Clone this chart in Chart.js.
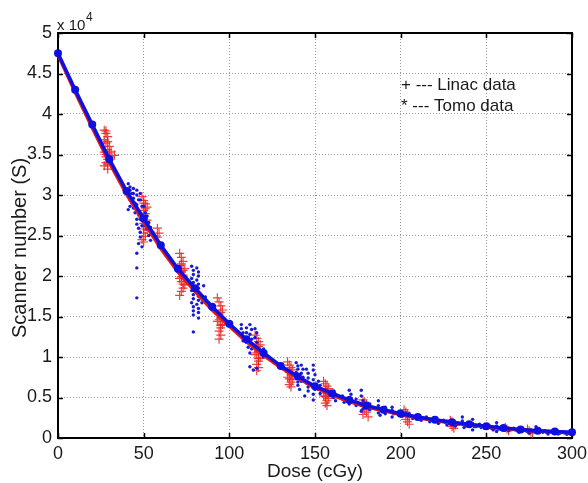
<!DOCTYPE html>
<html lang="en">
<head>
<meta charset="UTF-8">
<title>Scanner number vs dose</title>
<script src="https://cdn.jsdelivr.net/npm/chart.js"></script>
<style>
  html, body { margin: 0; padding: 0; background: #fff; }
  #wrap { width: 588px; height: 483px; }
</style>
</head>
<body>
<div id="wrap"><canvas id="chart" width="588" height="483"></canvas></div>
<script>
// fitted curves, one point every 10 cGy
const fitDose = [0, 10, 20, 30, 40, 50, 60, 70, 80, 90, 100, 110, 120, 130, 140, 150,
  160, 170, 180, 190, 200, 210, 220, 230, 240, 250, 260, 270, 280, 290, 300];
const tomoFit = [47500, 43000, 38700, 34400, 30500, 27100, 23800, 20900, 18500, 16200, 14100,
  12200, 10500, 8900, 7600, 6400, 5500, 4700, 4000, 3500, 3000, 2600, 2250, 1950, 1700,
  1450, 1250, 1050, 900, 800, 700];
const linacFit = [47300, 42700, 38300, 34000, 30100, 26700, 23400, 20500, 18100, 15800, 13800,
  11900, 10200, 8700, 7400, 6200, 5300, 4500, 3850, 3350, 2900, 2500, 2150, 1850, 1600,
  1400, 1200, 1000, 850, 750, 650];

// measured points [dose, scanner number]
const linacPoints = [
  [27,38000],[28,37600],[29,37200],[27,36800],[28,36400],[30,36000],[29,35600],[27,35300],[28,35000],[30,34700],[29,34400],[28,34000],[27,33600],[29,33200],[33,34900],[31,35400],
  [28,37900],[29,36600],[30,35200],[28,34700],[29,33800],
  [49,29800],[50,29300],[51,28900],[52,28500],[50,28100],[51,27700],[49,27300],[52,26900],[50,26500],[51,26100],[52,25700],[50,25300],[51,24900],[49,24500],[50,24200],[58,25900],[59,25300],[58,24800],[56,25000],
  [50,29000],[51,28300],[50,27400],[51,26700],[50,25800],
  [71,22800],[72,22300],[73,21800],[71,21300],[74,20900],[72,20500],[73,20100],[71,19700],[72,19300],[74,18900],[73,18500],[72,18100],[71,17600],
  [72,21500],[73,20700],[72,19900],[73,19000],
  [93,17300],[94,16800],[95,16300],[96,15800],[94,15300],[95,14800],[93,14400],[96,14000],[95,13600],[94,13200],[95,12700],[94,12200],
  [95,15500],[94,14600],[95,13900],
  [115,12700],[116,12300],[117,11900],[118,11500],[116,11100],[117,10700],[115,10300],[118,9900],[117,9500],[116,9100],[117,8700],[116,8300],
  [117,11300],[116,10500],[117,9800],
  [134,9400],[135,9000],[136,8700],[137,8400],[135,8100],[136,7800],[134,7500],[137,7200],[136,6900],[135,6600],[136,6300],
  [136,8000],[135,7300],
  [155,7000],[156,6700],[157,6400],[158,6100],[156,5800],[157,5500],[155,5200],[158,4900],[157,4600],[156,4300],[157,4000],
  [157,5900],[156,5100],
  [178,4700],[179,4400],[180,4100],[181,3800],[179,3500],[180,3200],[178,2900],[181,2600],
  [202,3500],[203,3200],[204,2900],[205,2600],[203,2300],[204,2000],[205,1700],
  [229,2200],[230,2000],[231,1800],[232,1600],[230,1400],[231,1200],
  [261,1300],[262,1100],[263,900],
  [274,1100],[275,900],[276,700],[277,600]
];
const tomoPoints = [
  [41,31400],[42,31000],[42,30600],[43,30200],[41,29800],[42,29400],[43,29000],[42,28600],[41,28200],[44,30800],[44,30200],[44,29600],[45,29000],[44,28400],[45,27800],
  [46,30600],[46,30000],[47,29400],[46,28800],[46,28200],[47,27600],[46,27000],[46,26400],[47,25900],[46,22800],[46,21000],[46,17300],
  [48,30200],[48,29400],[49,28600],[48,27800],[48,27000],[49,26200],[48,25400],[48,24800],[50,28600],[51,27800],[50,27000],[51,26200],
  [52,27400],[53,26600],[52,25800],[53,25000],[54,26000],[55,25200],[54,24400],[47,24000],[49,23600],
  [78,21200],[79,20700],[79,20200],[78,19700],[79,19200],[79,18700],[78,18200],[79,17700],[79,17200],[78,16700],[79,16200],[79,15700],[79,15200],[79,13100],
  [81,21000],[82,20500],[82,20000],[81,19500],[82,19000],[82,18500],[81,18000],[82,17500],[82,17000],[81,16500],[82,16000],[82,15500],[82,14800],[85,18800],[86,17400],[84,16700],
  [107,14000],[107,13500],[108,13000],[107,12500],[108,12000],[110,13600],[110,13000],[111,12400],[110,11800],[111,11200],
  [112,14000],[113,13400],[112,12800],[113,12200],[112,11600],[113,11000],[112,10500],[112,8800],
  [115,13500],[116,13000],[115,12400],[116,11800],[115,11200],[116,8600],[114,8400],[120,11000],[121,10500],[120,10000],
  [139,9300],[140,8900],[140,8500],[139,8100],[140,7700],[141,7300],[140,6900],[140,6500],[141,6000],[142,9000],[143,8500],[142,8000],[143,7500],[142,7000],
  [145,8500],[146,8000],[146,7400],[145,6800],[146,6300],[146,5800],[144,5200],[149,9000],[149,8400],[150,7800],[149,7200],[149,6600],[150,6000],[149,5400],[149,4700],
  [152,7000],[153,6500],[152,6000],[153,5500],
  [161,5800],[162,5400],[161,5000],[162,4600],[166,5200],[166,4800],[167,4400],[170,5900],[171,5400],[170,5000],[171,4600],[170,4200],
  [174,4800],[175,4400],[174,4000],[177,5900],[177,5200],[178,4600],[177,4000],[178,3600],[177,3300],[182,4200],[183,3800],[182,3500],
  [187,4600],[187,4000],[188,3500],[187,3100],[188,2800],[191,3800],[192,3400],[191,3000],[195,3800],[195,3400],[196,3000],[195,2600],[199,3300],[200,3000],[201,2700],
  [205,3000],[206,2700],[207,2400],[210,2800],[211,2500],[212,2200],[215,2600],[216,2300],[217,2000],[220,2400],[221,2100],[222,1800],
  [225,2200],[226,1900],[227,1600],[230,2000],[231,1700],[232,1500],[236,2600],[236,2100],[236,1700],[237,1300],[242,2300],[242,1800],[243,1400],[242,1000],
  [246,1700],[248,1500],[249,1200],[252,1500],[253,1200],[254,1000],[256,1900],[256,1500],[257,1100],[256,800],[260,1300],[262,1100],[263,900],
  [266,1200],[268,900],[269,700],[272,1000],[274,800],[275,600],[279,1400],[279,1000],[280,700],[284,900],[285,700],[286,500],
  [290,800],[291,600],[292,500],[295,700],[296,600],[297,450],[299,700],
  [203,3100],[208,2600],[213,2400],[218,2200],[223,2000],[228,1800],[233,1700],[238,1500],[240,1600],[244,1400],[247,1300],[250,1300],
  [255,1200],[258,1100],[261,1000],[264,1000],[267,1000],[270,900],[273,900],[277,800],[281,800],[283,700],[287,700],[289,700],[293,600],[298,600]
];

const xTicks = [0, 50, 100, 150, 200, 250, 300];
const yTicks = [0, 5000, 10000, 15000, 20000, 25000, 30000, 35000, 40000, 45000, 50000];
const legendLines = ['+ --- Linac data', '* --- Tomo data'];

const FONT = '"Liberation Sans", Arial, sans-serif';

// box round the axes with inward ticks, plus the loose texts
const framePlugin = {
  id: 'frame',
  beforeDatasetsDraw(chart) {
    const { ctx, chartArea: a, scales: { x, y } } = chart;
    ctx.save();
    ctx.strokeStyle = '#000';
    ctx.lineWidth = 1.5;
    ctx.beginPath();
    xTicks.forEach(v => {
      const px = Math.round(x.getPixelForValue(v)) + 0.5;
      ctx.moveTo(px, a.bottom); ctx.lineTo(px, a.bottom - 5);
      ctx.moveTo(px, a.top); ctx.lineTo(px, a.top + 5);
    });
    yTicks.forEach(v => {
      const py = Math.round(y.getPixelForValue(v)) + 0.5;
      ctx.moveTo(a.left, py); ctx.lineTo(a.left + 5, py);
      ctx.moveTo(a.right, py); ctx.lineTo(a.right - 5, py);
    });
    ctx.stroke();
    ctx.lineWidth = 2;
    ctx.strokeRect(a.left, a.top, a.right - a.left, a.bottom - a.top);
    ctx.restore();
  },
  afterDraw(chart) {
    const { ctx } = chart;
    ctx.save();
    ctx.fillStyle = '#1a1a1a';
    // y axis title
    ctx.translate(20, 248);
    ctx.rotate(-Math.PI / 2);
    ctx.font = '20px ' + FONT;
    ctx.textAlign = 'center';
    ctx.textBaseline = 'middle';
    ctx.fillText('Scanner number (S)', 0, 0);
    ctx.restore();

    ctx.save();
    ctx.fillStyle = '#1a1a1a';
    ctx.textBaseline = 'alphabetic';
    ctx.font = '15px ' + FONT;
    ctx.fillText('x 10', 57, 30);
    ctx.font = '12px ' + FONT;
    ctx.fillText('4', 86, 21);
    ctx.font = '17px ' + FONT;
    ctx.fillText(legendLines[0], 401, 90);
    ctx.fillText(legendLines[1], 401, 111);
    ctx.restore();
  }
};

new Chart(document.getElementById('chart'), {
  type: 'scatter',
  data: {
    datasets: [
      {
        label: 'Tomo fit',
        data: fitDose.map((d, i) => ({ x: d, y: tomoFit[i] })),
        showLine: true,
        borderColor: 'rgb(15,15,225)',
        backgroundColor: 'rgb(15,15,225)',
        borderWidth: 3.5,
        pointRadius: 4,
        pointBorderWidth: 0,
        clip: false
      },
      {
        label: 'Linac fit',
        data: fitDose.map((d, i) => ({ x: d, y: linacFit[i] })),
        showLine: true,
        borderColor: 'rgb(225,25,25)',
        borderWidth: 3.5,
        pointRadius: 0,
        clip: false
      },
      {
        label: 'Tomo data',
        data: tomoPoints.map(p => ({ x: p[0], y: p[1] })),
        pointStyle: 'circle',
        pointRadius: 1.7,
        pointBorderWidth: 0,
        backgroundColor: 'rgb(25,25,215)'
      },
      {
        label: 'Linac data',
        data: linacPoints.map(p => ({ x: p[0], y: p[1] })),
        pointStyle: 'cross',
        pointRadius: 4.5,
        borderWidth: 1.2,
        borderColor: 'rgba(235,30,30,0.85)'
      }
    ]
  },
  options: {
    responsive: false,
    animation: false,
    devicePixelRatio: 1,
    layout: { padding: { top: 33, right: 16, left: 0, bottom: 0 } },
    plugins: { legend: { display: false }, tooltip: { enabled: false } },
    scales: {
      x: {
        type: 'linear',
        min: 0,
        max: 300,
        afterBuildTicks: s => { s.ticks = xTicks.map(v => ({ value: v })); },
        afterFit: s => { s.height = 45; s.paddingRight = 0; s.paddingLeft = 0; },
        ticks: { font: { size: 18, family: FONT }, color: '#1a1a1a', padding: 5, maxRotation: 0 },
        grid: { color: '#9a9a9a', lineWidth: 1, drawTicks: false },
        border: { display: false, dash: [1, 2] },
        title: { display: true, text: 'Dose (cGy)', font: { size: 19, family: FONT }, color: '#1a1a1a', padding: 0 }
      },
      y: {
        type: 'linear',
        min: 0,
        max: 50000,
        afterBuildTicks: s => { s.ticks = yTicks.map(v => ({ value: v })); },
        afterFit: s => { s.width = 58; s.paddingTop = 0; s.paddingBottom = 0; },
        ticks: { font: { size: 18, family: FONT }, color: '#1a1a1a', padding: 6, callback: v => v / 10000 },
        grid: { color: '#9a9a9a', lineWidth: 1, drawTicks: false },
        border: { display: false, dash: [1, 2] }
      }
    }
  },
  plugins: [framePlugin]
});
</script>
</body>
</html>
